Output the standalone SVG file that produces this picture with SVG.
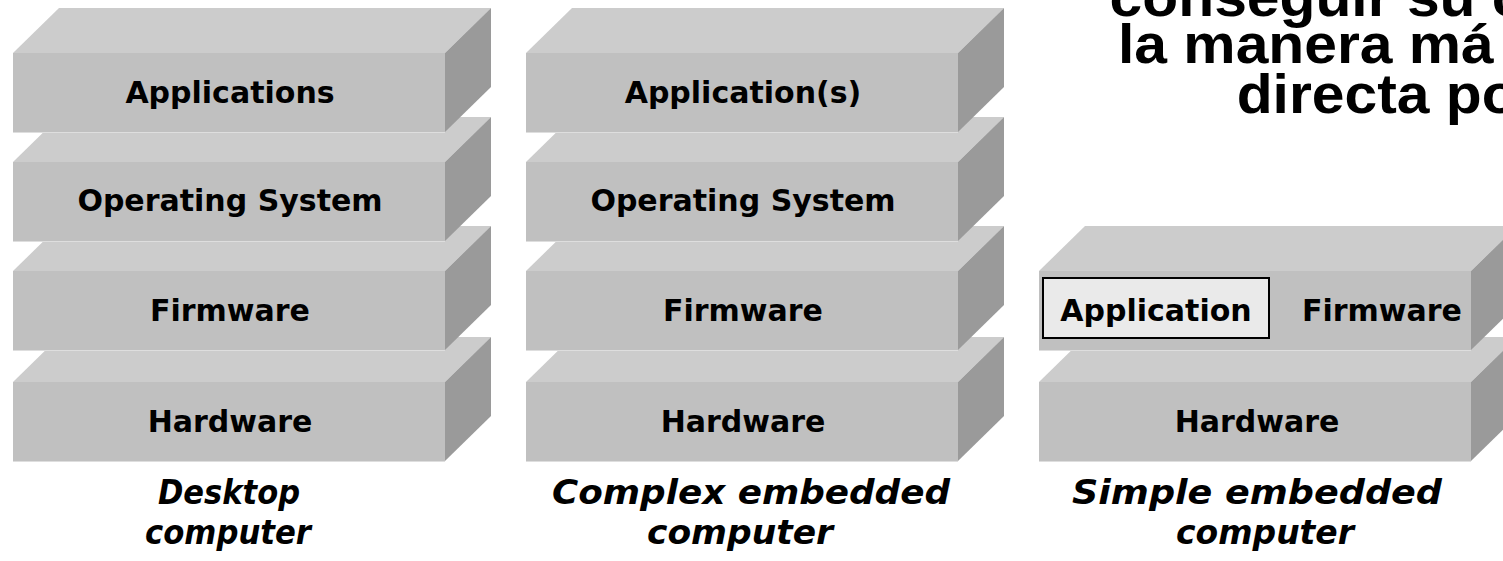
<svg xmlns="http://www.w3.org/2000/svg" xmlns:xlink="http://www.w3.org/1999/xlink" width="1503" height="561" viewBox="0 0 1503 561">
<style>
.front{fill:#c0c0c0}
.top{fill:#cccccc}
.side{fill:#9a9a9a}
.edge{stroke:#dedede;stroke-width:1;fill:none}
.lbl{font-family:"DejaVu Sans",Verdana,sans-serif;font-weight:bold;font-size:30px;fill:#000;text-anchor:middle}
.cap{font-family:"DejaVu Sans",Verdana,sans-serif;font-weight:bold;font-style:oblique;font-size:34px;fill:#000;text-anchor:middle}
.title{font-family:"Liberation Sans",Arial,sans-serif;font-weight:bold;font-size:56px;fill:#000}
</style>
<defs>
<g id="block">
<polygon class="top" points="0,0 46,-45 478,-45 432,0"/>
<rect class="front" x="0" y="0" width="432" height="79"/>
<polygon class="side" points="432,0 478,-45 478,34 432,79"/>
<line class="edge" x1="0" y1="79.5" x2="432" y2="79.5"/>
</g>
</defs>
<rect width="1503" height="561" fill="#ffffff"/>

<g id="title" transform="translate(1118,0) scale(1.05,1)">
<text class="title" x="-8" y="16">conseguir su c</text>
<text class="title" x="0" y="63">la manera má</text>
<text class="title" x="113" y="113">directa po</text>
</g>

<g id="desktop-stack">
<g id="desktop-hardware"><use xlink:href="#block" x="13" y="382"/><text class="lbl" x="230" y="432">Hardware</text></g>
<g id="desktop-firmware"><use xlink:href="#block" x="13" y="271"/><text class="lbl" x="230" y="321">Firmware</text></g>
<g id="desktop-os"><use xlink:href="#block" x="13" y="162"/><text class="lbl" x="230" y="211">Operating System</text></g>
<g id="desktop-apps"><use xlink:href="#block" x="13" y="53"/><text class="lbl" x="230" y="103">Applications</text></g>
</g>

<g id="complex-stack">
<g id="complex-hardware"><use xlink:href="#block" x="526" y="382"/><text class="lbl" x="743" y="432">Hardware</text></g>
<g id="complex-firmware"><use xlink:href="#block" x="526" y="271"/><text class="lbl" x="743" y="321">Firmware</text></g>
<g id="complex-os"><use xlink:href="#block" x="526" y="162"/><text class="lbl" x="743" y="211">Operating System</text></g>
<g id="complex-apps"><use xlink:href="#block" x="526" y="53"/><text class="lbl" x="743" y="103">Application(s)</text></g>
</g>

<g id="simple-stack">
<g id="simple-hardware"><use xlink:href="#block" x="1039" y="382"/><text class="lbl" x="1257" y="432">Hardware</text></g>
<g id="simple-firmware"><use xlink:href="#block" x="1039" y="271"/><text class="lbl" x="1382" y="321">Firmware</text></g>
<g id="simple-application"><rect x="1043" y="278" width="226" height="60" fill="#eaeaea" stroke="#000" stroke-width="2"/><text class="lbl" x="1156" y="321">Application</text></g>
</g>

<g id="captions">
<text class="cap" x="229" y="504" textLength="142" lengthAdjust="spacingAndGlyphs">Desktop</text>
<text class="cap" x="228" y="544" textLength="166" lengthAdjust="spacingAndGlyphs">computer</text>
<text class="cap" x="751" y="504" textLength="398" lengthAdjust="spacingAndGlyphs">Complex embedded</text>
<text class="cap" x="740" y="544" textLength="186" lengthAdjust="spacingAndGlyphs">computer</text>
<text class="cap" x="1257" y="504" textLength="370" lengthAdjust="spacingAndGlyphs">Simple embedded</text>
<text class="cap" x="1265" y="544" textLength="178" lengthAdjust="spacingAndGlyphs">computer</text>
</g>
</svg>
